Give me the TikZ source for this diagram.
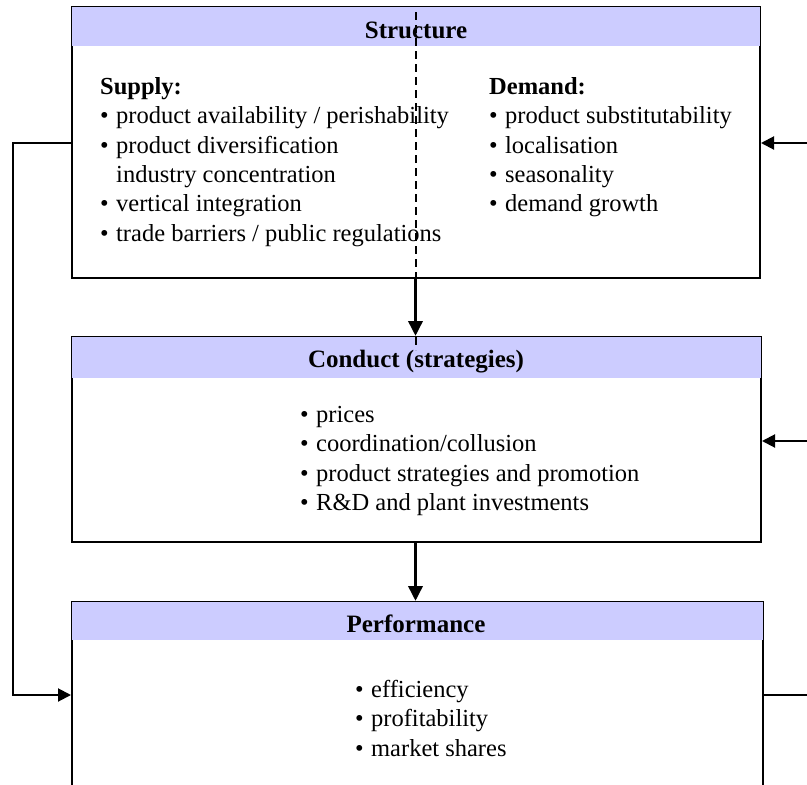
\documentclass[tikz,border=0pt]{standalone}
\usepackage{fontspec}
\setmainfont{Liberation Serif}
\usetikzlibrary{arrows.meta}
\definecolor{headblue}{RGB}{204,204,255}
\newcommand{\itm}{\makebox[16pt][l]{\textbullet}}
\newcommand{\noitm}{\hspace*{16pt}}
\tikzset{
  box/.style={draw,line width=2pt,fill=white,inner sep=0pt},
  head/.style={fill=headblue},
  title/.style={font=\fontsize{25}{29.4}\selectfont\bfseries,anchor=base},
  items/.style={align=left,anchor=north west,inner sep=0pt},
  flow/.style={-{Triangle[length=15pt,width=14pt]},line width=3.5pt},
  link/.style={-{Triangle[length=13pt,width=13pt]},line width=2pt},
}
\begin{document}
\begin{tikzpicture}[x=1pt,y=-1pt,font=\fontsize{24.5}{29.4}\selectfont]
  \useasboundingbox (0,0) rectangle (807,785);
  \clip (0,0) rectangle (807,785);
  %\draw[step=50,gray,very thin] (0,0) grid (807,785);
  \node[box,minimum width=688pt,minimum height=271pt] (structure) at (416,142.5) {};
  \node[box,minimum width=689pt,minimum height=205pt] (conduct) at (416.5,439.5) {};
  \node[box,minimum width=691pt,minimum height=218pt] (perf) at (417.5,711) {};
  \fill[head] ([shift={(1pt,-1pt)}]structure.north west) rectangle ([shift={(-1pt,-40pt)}]structure.north east);
  \fill[head] ([shift={(1pt,-1pt)}]conduct.north west) rectangle ([shift={(-1pt,-42pt)}]conduct.north east);
  \fill[head] ([shift={(1pt,-1pt)}]perf.north west) rectangle ([shift={(-1pt,-39pt)}]perf.north east);
  \node[title] (structtitle) at (416,38) {Structure};
  \node[title] (conducttitle) at (416,367) {Conduct (strategies)};
  \node[title] (perftitle) at (416,632) {Performance};
  % structure
  \node[items] (supply) at (100,77) {\textbf{Supply:}\\
    \itm product availability / perishability\\
    \itm product diversification\\
    \noitm industry concentration\\
    \itm vertical integration\\
    \itm trade barriers / public regulations};
  \node[items] (demand) at (489,77) {\textbf{Demand:}\\
    \itm product substitutability\\
    \itm localisation\\
    \itm seasonality\\
    \itm demand growth};
  % conduct
  \node[items] (strategies) at (300,406) {\itm prices\\
    \itm coordination/collusion\\
    \itm product strategies and promotion\\
    \itm R\&D and plant investments};
  % performance
  \node[items] (results) at (355,680) {\itm efficiency\\
    \itm profitability\\
    \itm market shares};
  \draw[dashed,line width=2pt,dash pattern=on 8pt off 5pt] (415.5,12) -- (415.5,350);
  \draw[flow] (structure.south -| 415.5,0) -- (conduct.north -| 415.5,0);
  \draw[flow] (conduct.south -| 415.5,0) -- (perf.north -| 415.5,0);
  % feedback lines
  \coordinate (loopL) at (12.5,0);
  \coordinate (inA) at (807,143);
  \coordinate (inB) at (807,441);
  \coordinate (outC) at (807,695);
  \draw[link] (structure.west |- 0,143) -| (loopL |- 0,400) |- (perf.west |- 0,695);
  \draw[link] (inA) -- (structure.east |- inA);
  \draw[link] (inB) -- (conduct.east |- inB);
  \draw[line width=2pt] (perf.east |- outC) -- (outC);
\end{tikzpicture}
\end{document}
